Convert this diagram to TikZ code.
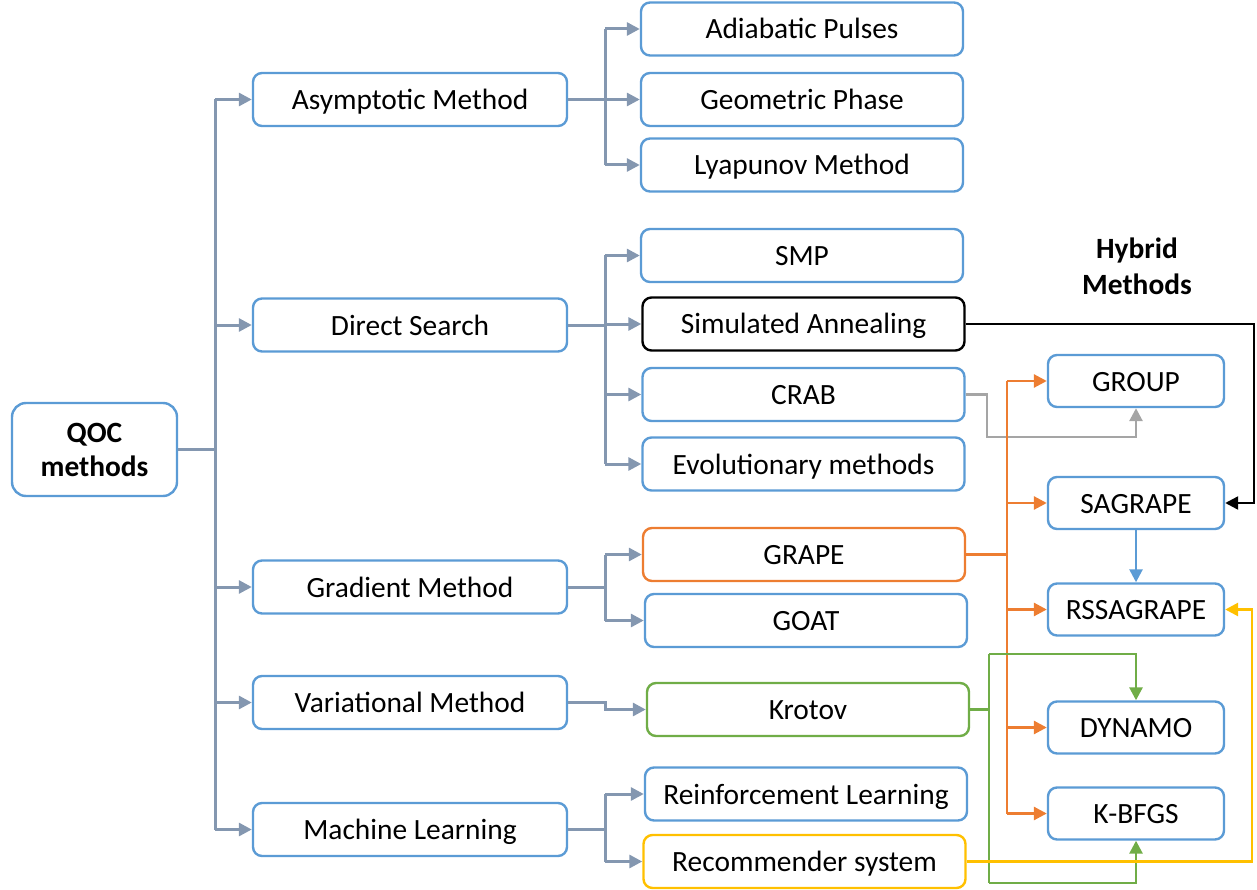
\documentclass[tikz,border=0pt]{standalone}
\usepackage{fontspec}
\setmainfont{Carlito}
\usetikzlibrary{arrows.meta}
\definecolor{boxblue}{HTML}{5B9BD5}
\definecolor{conngray}{HTML}{8497B0}
\definecolor{crabgray}{HTML}{A5A5A5}
\definecolor{qorange}{HTML}{ED7D31}
\definecolor{qgreen}{HTML}{70AD47}
\definecolor{qyellow}{HTML}{FFC000}
\begin{document}
\begin{tikzpicture}[x=1pt,y=-1pt,
  txt/.style={font=\fontsize{29.4}{35}\selectfont},
  box/.style={draw=boxblue, line width=2.4pt, rounded corners=9pt, fill=white, txt, inner sep=0pt, text height=24pt, text depth=4pt},
  lone/.style={box, minimum width=314pt, minimum height=53pt},
  ltwo/.style={box, minimum width=322pt, minimum height=53pt},
  hyb/.style={box, minimum width=176pt, minimum height=52pt},
  tip/.style={-{Triangle[length=13pt,width=13pt]}},
  conn/.style={draw=conngray, line width=3pt},
  carr/.style={conn, tip},
  hl/.style={line width=2.8pt}
]
\useasboundingbox (0,0) rectangle (1257,890);

% root
\node[draw=boxblue, line width=2.4pt, rounded corners=14pt, fill=white, minimum width=165pt, minimum height=93pt, align=center, inner sep=0pt, font=\fontsize{29.4}{34}\selectfont\bfseries] (qoc) at (94.5,449.5) {QOC\\methods};

% level 1
\node[lone] (asym)   at (410,99.5)  {Asymptotic Method};
\node[lone] (direct) at (410,325)   {Direct Search};
\node[lone] (grad)   at (410,587)   {Gradient Method};
\node[lone] (var)    at (410,702.5) {Variational Method};
\node[lone] (ml)     at (410,829.5) {Machine Learning};

% level 2
\node[ltwo] (adi)    at (802,29)    {Adiabatic Pulses};
\node[ltwo] (geo)    at (802,99.5)  {Geometric Phase};
\node[ltwo] (lya)    at (802,165)   {Lyapunov Method};
\node[ltwo] (smp)    at (802,255.5) {SMP};
\node[ltwo, draw=black] (sa) at (803.5,324) {Simulated Annealing};
\node[ltwo] (crab)   at (803.5,394.5) {CRAB};
\node[ltwo] (evo)    at (803.5,464) {Evolutionary methods};
\node[ltwo, draw=qorange] (grape) at (804,554.5) {GRAPE};
\node[ltwo] (goat)   at (806,620.5) {GOAT};
\node[ltwo, draw=qgreen] (krotov) at (808,709.5) {Krotov};
\node[ltwo] (reinf)  at (806,794)   {Reinforcement Learning};
\node[ltwo, draw=qyellow] (recom) at (804.5,861.5) {Recommender system};

% hybrid
\node[txt, font=\fontsize{29.4}{36}\selectfont\bfseries, align=center, inner sep=0pt] (hyblabel) at (1137,266) {Hybrid\\Methods};
\node[hyb] (group)  at (1136,381)   {GROUP};
\node[hyb] (sag)    at (1136,503)   {SAGRAPE};
\node[hyb] (rss)    at (1136,609.5) {RSSAGRAPE};
\node[hyb] (dyn)    at (1136,727.5) {DYNAMO};
\node[hyb] (kbf)    at (1136,813.5) {K-BFGS};

% helper coordinates
\coordinate (tX) at (215,0);
\coordinate (bX) at (605,0);
\coordinate (oX) at (1007,0);
\coordinate (gX) at (989,0);
\coordinate (cc) at (987,437);
\coordinate (bR) at (1254,0);
\coordinate (yR) at (1252,0);
\coordinate (gTop) at (0,654);
\coordinate (gBot) at (0,883);

% trunk
\draw[conn] (qoc.east) -- (qoc.east -| tX);
\draw[conn] (tX |- asym.west) -- (tX |- ml.west);
\foreach \n in {asym,direct,grad,var,ml}
  \draw[carr] (tX |- \n.west) -- (\n.west);

% asymptotic branch
\draw[conn] (asym.east) -- (asym.east -| bX);
\draw[conn] (bX |- adi.west) -- (bX |- lya.west);
\foreach \n in {adi,geo,lya}
  \draw[carr] (bX |- \n.west) -- (\n.west);

% direct search branch
\draw[conn] (direct.east) -- (direct.east -| bX);
\draw[conn] (bX |- smp.west) -- (bX |- evo.west);
\foreach \n in {smp,sa,crab,evo}
  \draw[carr] (bX |- \n.west) -- (\n.west);

% gradient branch
\draw[conn] (grad.east) -- (grad.east -| bX);
\draw[conn] (bX |- grape.west) -- (bX |- goat.west);
\foreach \n in {grape,goat}
  \draw[carr] (bX |- \n.west) -- (\n.west);

% variational
\draw[carr] (var.east) -- (var.east -| bX) |- (krotov.west);

% machine learning
\draw[conn] (ml.east) -- (ml.east -| bX);
\draw[conn] (bX |- reinf.west) -- (bX |- recom.west);
\foreach \n in {reinf,recom}
  \draw[carr] (bX |- \n.west) -- (\n.west);

% CRAB -> GROUP
\draw[draw=crabgray, hl, tip] (crab.east) -| (cc) -| (group.south);

% GRAPE -> hybrids
\draw[draw=qorange, hl] (grape.east) -- (grape.east -| oX);
\draw[draw=qorange, hl] (oX |- group.west) -- (oX |- kbf.west);
\foreach \n in {group,sag,rss,dyn,kbf}
  \draw[draw=qorange, hl, tip] (oX |- \n.west) -- (\n.west);

% SA -> SAGRAPE
\draw[draw=black, line width=2.4pt, tip] (sa.east) -- (sa.east -| bR) |- (sag.east);

% SAGRAPE -> RSSAGRAPE
\draw[draw=boxblue, line width=2.6pt, tip] (sag.south) -- (rss.north);

% Krotov -> DYNAMO, K-BFGS
\draw[draw=qgreen, hl] (krotov.east) -- (krotov.east -| gX);
\draw[draw=qgreen, hl] (gX |- gTop) -- (gX |- gBot);
\draw[draw=qgreen, hl, tip] (gX |- gTop) -| (dyn.north);
\draw[draw=qgreen, hl, tip] (gX |- gBot) -| (kbf.south);

% Recommender -> RSSAGRAPE
\draw[draw=qyellow, hl, tip] (recom.east) -- (recom.east -| yR) |- (rss.east);
\end{tikzpicture}
\end{document}
